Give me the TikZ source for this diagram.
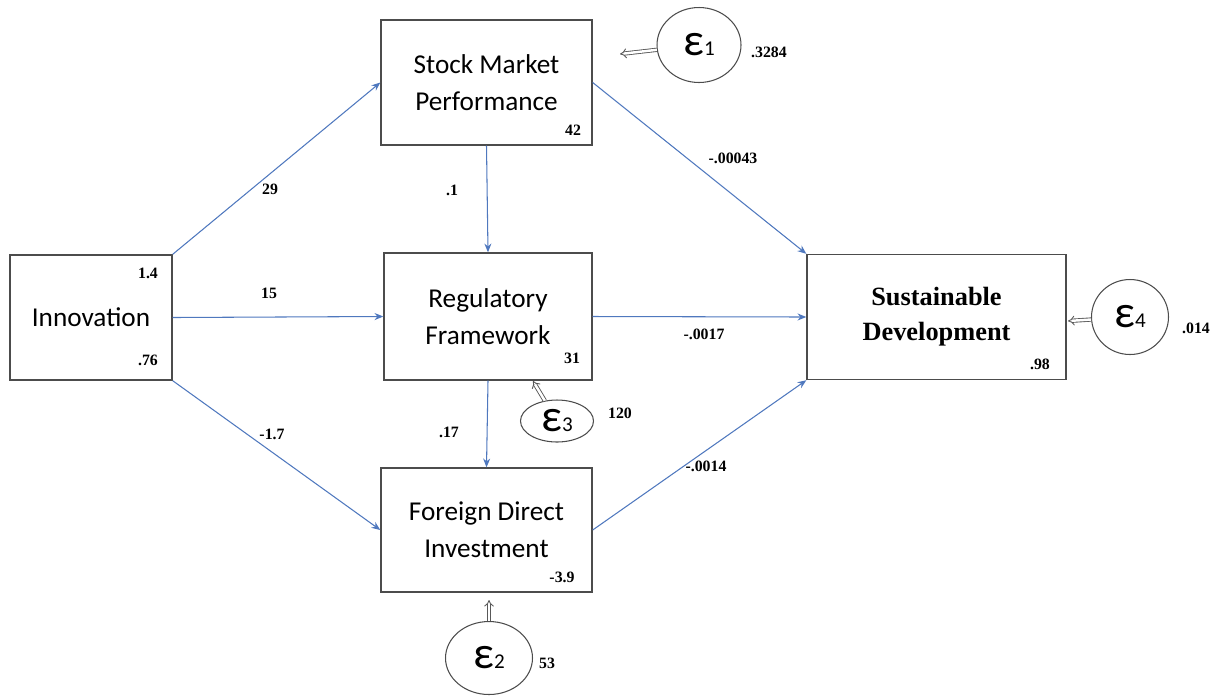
\documentclass[tikz,border=0pt]{standalone}
\usepackage{fontspec}
\setmainfont{Liberation Serif}
\newfontfamily\calib{Carlito}
\usetikzlibrary{arrows.meta,shapes.geometric}
\definecolor{linkblue}{RGB}{79,120,190}
\newcommand{\eps}[1]{{\calib\fontsize{26}{28}\selectfont ε}{\calib\fontsize{12}{14}\selectfont #1}}

\begin{document}
\begin{tikzpicture}[x=0.02cm, y=-0.02cm,
    var/.style={draw=black!70, line width=0.8pt, minimum height=2.5cm, align=center,
        font=\calib\fontsize{15.5}{21}\selectfont},
    err/.style={ellipse, draw=black!70, line width=0.6pt, inner sep=0pt},
    link/.style={draw=linkblue, line width=0.6pt, -{Stealth[length=5pt,width=4pt]}},
    errlink/.style={draw=black!65, line width=0.5pt, double, double distance=1.4pt, -{Implies}},
    coef/.style={font=\bfseries\fontsize{9}{10}\selectfont, inner sep=1pt}]
    \useasboundingbox (0,0) rectangle (1220,698);

    % Define variables
    \node[var, minimum width=3.24cm] (INN) at (91,317.5) {Innovation};
    \node[var, minimum width=4.22cm] (SMP) at (486.5,82.5) {Stock Market\\Performance};
    \node[var, minimum width=4.16cm, minimum height=2.54cm] (RF) at (488,316.5) {Regulatory\\Framework};
    \node[var, minimum width=4.22cm, minimum height=2.48cm] (FDI) at (486.5,530) {Foreign Direct\\Investment};
    \node[var, minimum width=5.18cm, font=\bfseries\fontsize{15}{20}\selectfont] (SD) at (936.5,317) {Sustainable\\Development};

    % Define error terms
    \node[err, minimum width=1.68cm, minimum height=1.5cm] (E1) at (699,45) {\eps{1}};
    \node[err, minimum width=1.74cm, minimum height=1.46cm] (E2) at (489,658) {\eps{2}};
    \node[err, minimum width=1.46cm, minimum height=0.84cm] (E3) at (557,421) {\eps{3}};
    \node[err, minimum width=1.54cm, minimum height=1.5cm] (E4) at (1130,317) {\eps{4}};
    \coordinate (e1tip) at (620,54);
    \coordinate (e2tip) at (489,600);
    \coordinate (e3tip) at (533,381);
    \coordinate (e4tip) at (1068,321);

    % Draw paths
    \draw[link] (INN.north east) -- (SMP.west);
    \draw[link] (INN.east) -- (RF.west);
    \draw[link] (INN.south east) -- (FDI.west);
    \draw[link] (SMP.south) -- (RF.north);
    \draw[link] (RF.south) -- (FDI.north);
    \draw[link] (SMP.east) -- (SD.north west);
    \draw[link] (RF.east) -- (SD.west);
    \draw[link] (FDI.east) -- (SD.south west);

    % Draw error arrows
    \draw[errlink] (E1) -- (e1tip);
    \draw[errlink] (E2) -- (e2tip);
    \draw[errlink] (E3) -- (e3tip);
    \draw[errlink] (E4) -- (e4tip);

    % Path coefficients
    \node[coef] (c1) at (270,189) {29};
    \node[coef] (c2) at (269,293) {15};
    \node[coef] (c3) at (272,434) {-1.7};
    \node[coef] (c4) at (452,190) {.1};
    \node[coef] (c5) at (449,432) {.17};
    \node[coef] (c6) at (733,158) {-.00043};
    \node[coef] (c7) at (704,334) {-.0017};
    \node[coef] (c8) at (706,466) {-.0014};

    % Variances and intercepts
    \node[coef] (v1) at (148,273) {1.4};
    \node[coef] (v2) at (148,360) {.76};
    \node[coef] (v3) at (573,130) {42};
    \node[coef] (v4) at (572,358) {31};
    \node[coef] (v5) at (562,577) {-3.9};
    \node[coef] (v6) at (1040,364) {.98};
    \node[coef] (v7) at (769,52) {.3284};
    \node[coef] (v8) at (620,413) {120};
    \node[coef] (v9) at (547,663) {53};
    \node[coef] (v10) at (1196,328) {.014};
\end{tikzpicture}
\end{document}
